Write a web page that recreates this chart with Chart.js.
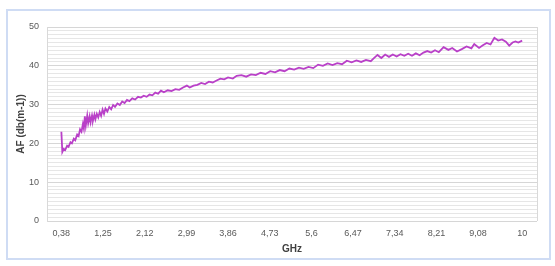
<!DOCTYPE html>
<html>
<head>
<meta charset="utf-8">
<script src="https://cdn.jsdelivr.net/npm/chart.js@4/dist/chart.umd.min.js"></script>
<style>
  html, body { margin: 0; padding: 0; background: #ffffff; }
  #wrap { position: relative; width: 555px; height: 266px; }
  #frame { position: absolute; left: 6px; top: 9px; width: 541px; height: 247px; border: 2px solid #cfdcf4; pointer-events: none; }
  canvas { position: absolute; left: 0; top: 0; }
</style>
</head>
<body>
<div id="wrap">
  <canvas id="c" width="555" height="266"></canvas>
  <div id="frame"></div>
</div>
<script>
const freqGHz = [
  0.38, 0.40, 0.43, 0.46, 0.50, 0.53, 0.57, 0.60, 0.64, 0.67, 0.71, 0.74, 0.77, 0.80, 0.83, 0.85,
  0.87, 0.89, 0.92, 0.94, 0.97, 0.99, 1.02, 1.04, 1.07, 1.09, 1.12, 1.15, 1.18, 1.21, 1.24, 1.27,
  1.30, 1.34, 1.38, 1.42, 1.46, 1.50, 1.55, 1.60, 1.65, 1.70, 1.75, 1.80, 1.86, 1.92, 1.98, 2.04,
  2.10, 2.16, 2.22, 2.28, 2.34, 2.40, 2.46, 2.52, 2.60, 2.68, 2.76, 2.84, 2.92, 3.00, 3.06, 3.14,
  3.22, 3.30, 3.38, 3.46, 3.54, 3.62, 3.70, 3.78, 3.86, 3.96, 4.04, 4.14, 4.24, 4.34, 4.44, 4.54,
  4.64, 4.74, 4.84, 4.94, 5.04, 5.14, 5.24, 5.34, 5.44, 5.54, 5.64, 5.74, 5.84, 5.94, 6.04, 6.14,
  6.24, 6.34, 6.44, 6.54, 6.64, 6.74, 6.84, 6.90, 6.98, 7.06, 7.14, 7.22, 7.30, 7.38, 7.46, 7.54,
  7.62, 7.70, 7.78, 7.86, 7.94, 8.02, 8.10, 8.18, 8.26, 8.36, 8.46, 8.54, 8.64, 8.74, 8.84, 8.94,
  9.00, 9.10, 9.18, 9.26, 9.34, 9.42, 9.50, 9.58, 9.66, 9.73, 9.80, 9.86, 9.92, 10.00
];
const afValues = [
  23.0, 17.8, 18.6, 18.3, 19.4, 19.1, 20.3, 20.0, 21.2, 20.8, 22.3, 21.9, 23.6, 23.0, 25.0, 23.8,
  27.0, 24.6, 27.2, 25.2, 27.0, 25.4, 27.2, 25.9, 27.4, 26.2, 27.6, 26.7, 28.1, 27.1, 28.7, 27.6,
  29.0, 28.2, 29.4, 28.8, 29.9, 29.4, 30.3, 29.9, 30.8, 30.4, 31.2, 30.9, 31.6, 31.3, 32.0, 31.8,
  32.3, 32.0, 32.6, 32.4, 33.1, 32.8, 33.6, 33.2, 33.7, 33.5, 34.0, 33.8, 34.4, 34.9, 34.4, 34.9,
  35.1, 35.6, 35.3, 35.9, 35.7, 36.2, 36.7, 36.5, 37.0, 36.7, 37.4, 37.6, 37.2, 37.8, 37.6, 38.2,
  37.9, 38.6, 38.3, 38.9, 38.6, 39.3, 39.0, 39.5, 39.2, 39.7, 39.4, 40.3, 40.0, 40.6, 40.2, 40.7,
  40.4, 41.3, 40.9, 41.4, 41.0, 41.5, 41.2, 41.9, 42.8, 42.0, 42.9, 42.3, 42.9, 42.4, 43.0, 42.6,
  43.1, 42.6, 43.2, 42.7, 43.4, 43.8, 43.4, 44.0, 43.5, 44.8, 44.1, 44.6, 43.7, 44.3, 45.0, 44.5,
  45.6, 44.6, 45.3, 45.9, 45.5, 47.2, 46.5, 46.8, 46.2, 45.2, 46.0, 46.3, 46.0, 46.5
];
const xTickValues = [0.38, 1.25, 2.12, 2.99, 3.86, 4.73, 5.6, 6.47, 7.34, 8.21, 9.08, 10];
const yTickLabels = [0, 10, 20, 30, 40, 50];

const points = freqGHz.map((f, i) => ({ x: f, y: afValues[i] }));

const plotFrame = {
  id: 'plotFrame',
  afterDraw(chart) {
    const { ctx, chartArea } = chart;
    ctx.save();
    ctx.strokeStyle = '#d9d9d9';
    ctx.lineWidth = 1;
    ctx.beginPath();
    ctx.moveTo(Math.round(chartArea.right) + 0.5, chartArea.top);
    ctx.lineTo(Math.round(chartArea.right) + 0.5, chartArea.bottom);
    ctx.stroke();
    ctx.restore();
  }
};

new Chart(document.getElementById('c'), {
  type: 'line',
  data: {
    datasets: [{
      data: points,
      borderColor: '#b940c8',
      borderWidth: 1.8,
      pointRadius: 0,
      tension: 0,
      fill: false
    }]
  },
  options: {
    responsive: false,
    animation: false,
    devicePixelRatio: 1,
    layout: { padding: { top: 27, right: 18, bottom: 0, left: 0 } },
    plugins: { legend: { display: false }, tooltip: { enabled: false } },
    scales: {
      x: {
        type: 'linear',
        min: 0.08,
        max: 10.31,
        afterBuildTicks(scale) { scale.ticks = xTickValues.map(v => ({ value: v })); },
        afterFit(scale) { scale.height = 45; },
        grid: { display: false, drawTicks: false },
        border: { display: false },
        ticks: {
          autoSkip: false,
          maxRotation: 0,
          padding: 7,
          color: '#595959',
          font: { family: 'Liberation Sans, Arial, sans-serif', size: 9 },
          callback: (v) => String(v).replace('.', ',')
        },
        title: {
          display: true,
          text: 'GHz',
          color: '#404040',
          font: { family: 'Liberation Sans, Arial, sans-serif', size: 10, weight: 'bold' },
          padding: { top: 4, bottom: 11 }
        }
      },
      y: {
        min: 0,
        max: 50,
        afterFit(scale) { scale.width = 47; },
        grid: {
          drawTicks: false,
          color: (ctx) => (ctx.tick && ctx.tick.value % 10 === 0) ? '#d6d6d6' : '#e6e6e6',
          lineWidth: 1
        },
        border: { display: true, color: '#d9d9d9' },
        ticks: {
          stepSize: 1,
          autoSkip: false,
          padding: 8,
          color: '#595959',
          font: { family: 'Liberation Sans, Arial, sans-serif', size: 9 },
          callback: (v) => yTickLabels.includes(v) ? String(v) : ''
        },
        title: {
          display: true,
          text: 'AF (db(m-1))',
          color: '#404040',
          font: { family: 'Liberation Sans, Arial, sans-serif', size: 10, weight: 'bold' },
          padding: { top: 15, bottom: 4 }
        }
      }
    }
  },
  plugins: [plotFrame]
});
</script>
</body>
</html>
